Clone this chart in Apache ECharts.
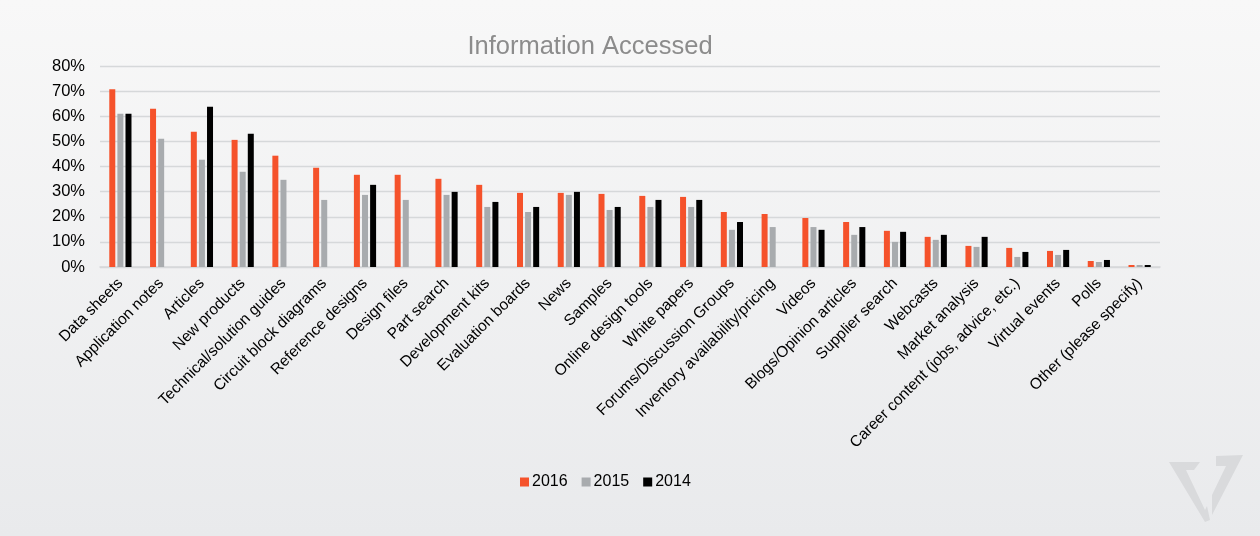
<!DOCTYPE html>
<html><head><meta charset="utf-8">
<script src="https://cdn.jsdelivr.net/npm/echarts@6/dist/echarts.min.js"></script>
<style>html,body{margin:0;padding:0;background:linear-gradient(#f8f8f8,#e9eaec);}#c{width:1260px;height:536px;}</style>
</head><body><div id="c"></div>
<script>
const categories = ["Data sheets","Application notes","Articles","New products","Technical/solution guides","Circuit block diagrams","Reference designs","Design files","Part search","Development kits","Evaluation boards","News","Samples","Online design tools","White papers","Forums/Discussion Groups","Inventory availability/pricing","Videos","Blogs/Opinion articles","Supplier search","Webcasts","Market analysis","Career content (jobs, advice, etc.)","Virtual events","Polls","Other (please specify)"];
const s2016 = [70.7,63.0,53.8,50.6,44.3,39.5,36.7,36.7,35.1,32.7,29.5,29.5,29.1,28.3,27.9,21.9,21.1,19.5,17.9,14.4,12.0,8.4,7.6,6.4,2.4,0.8];
const s2015 = [61.0,51.0,42.7,37.9,34.7,26.7,28.7,26.7,28.7,23.9,21.9,28.7,22.7,23.9,23.9,14.8,15.9,15.9,12.8,10.0,10.8,8.0,4.0,4.8,2.0,0.8];
const s2014 = [61.0,null,63.8,53.0,null,null,32.7,null,29.9,25.9,23.9,29.9,23.9,26.7,26.7,17.9,null,14.8,15.9,14.0,12.8,12.0,6.0,6.8,2.8,0.8];
const yTicks = [0,10,20,30,40,50,60,70,80];
const font = "Liberation Sans, Arial, sans-serif";
const chart = echarts.init(document.getElementById('c'), null, {renderer:'canvas'});
const mk = (name, data, color) => ({name, type:'bar', data, barWidth:6, barGap:'35%', itemStyle:{color}});
chart.setOption({
  backgroundColor:'transparent',
  animation:false,
  title:{text:'Information Accessed', left:585, top:29, textAlign:'center',
    textStyle:{color:'#8c8c8c', fontSize:25.5, fontWeight:'normal', fontFamily:font}},
  legend:{data:['2016','2015','2014'], left:515, top:469, itemWidth:9, itemHeight:9, itemGap:14,
    icon:'rect', textStyle:{fontSize:16, color:'#000', fontFamily:font, padding:[0,0,0,-2]}},
  grid:{left:100, right:100, top:66, bottom:269, containLabel:false},
  xAxis:{type:'category', data:categories,
    axisLine:{show:true, lineStyle:{color:'#d6d8da', width:1.5}},
    axisTick:{show:false},
    axisLabel:{rotate:45, interval:0, fontSize:15.5, color:'#000', fontFamily:font, margin:14}},
  yAxis:{type:'value', min:0, max:80, interval:10,
    axisLine:{show:false}, axisTick:{show:false},
    splitLine:{lineStyle:{color:'#d6d8da', width:1.3}},
    axisLabel:{formatter:v=>yTicks.includes(v)?v+'%':'', fontSize:16.5, color:'#000', fontFamily:font, margin:15}},
  series:[mk('2016',s2016,'#f5522b'), mk('2015',s2015,'#a8abae'), mk('2014',s2014,'#000000')],
  graphic:[
    {type:'polygon', shape:{points:[[1169,462],[1200,462],[1194,470],[1186,470],[1205,510],[1207,506],[1210,520],[1205,522]]}, style:{fill:'#d9dadc'}},
    {type:'polygon', shape:{points:[[1216,456],[1243,455],[1212,515],[1212,495],[1226,466],[1216,466]]}, style:{fill:'#d9dadc'}}
  ]
});
</script></body></html>
